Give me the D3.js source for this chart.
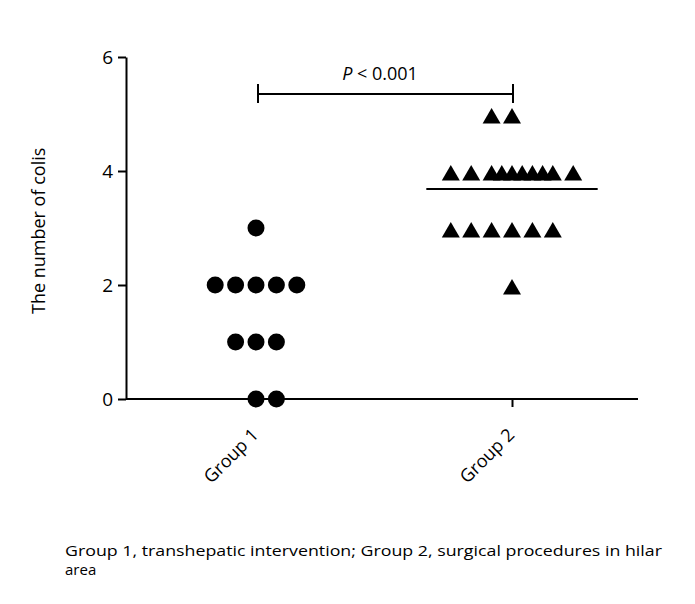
<!DOCTYPE html>
<html lang="en">
<head>
<meta charset="utf-8">
<title>Number of coils by group</title>
<script src="https://cdn.jsdelivr.net/npm/d3@7"></script>
<style>
  body { margin: 0; background: #fff; }
  text { font-family: "Open Sans", "Noto Sans", sans-serif; fill: #000; }
</style>
</head>
<body>
<script>
// data
var groups = ["Group 1", "Group 2"];
var group1Values = [3, 2, 2, 2, 2, 2, 1, 1, 1, 0, 0];
var group1Slots  = [0, -2, -1, 0, 1, 2, -1, 0, 1, 0, 1];
var group2Values = [5, 5, 4, 4, 4, 4, 4, 4, 4, 4, 4, 4, 3, 3, 3, 3, 3, 3, 2];
var group2Slots  = [-1, 0, -3, -2, -1, -0.5, 0, 0.5, 1, 1.5, 2, 3, -3, -2, -1, 0, 1, 2, 0];
var yTicks = [0, 2, 4, 6];
var pLabel = "< 0.001";
var yLabel = "The number of colis";
var caption = ["Group 1, transhepatic intervention; Group 2, surgical procedures in hilar", "area"];

var W = 695, H = 604;
var svg = d3.select("body").append("svg").attr("width", W).attr("height", H);

var x = d3.scalePoint().domain(groups).range([128, 640]).padding(0.5);
var y = d3.scaleLinear().domain([0, 6]).range([399, 57]);
// horizontal spread of the dots, in marker slots
var slot = d3.scaleLinear().domain([0, 1]).range([0, 20.4]);

// y axis
var yAxis = svg.append("g").attr("transform", "translate(126,0)")
    .call(d3.axisLeft(y).tickValues(yTicks).tickFormat(d3.format("d"))
        .tickSize(8).tickSizeOuter(0).tickPadding(5));
yAxis.selectAll("path, line").attr("stroke", "#000").attr("stroke-width", 2);
yAxis.selectAll("text").style("font-size", "19px").attr("font-family", null);

// x axis
var xAxis = svg.append("g").attr("transform", "translate(0," + y(0) + ")")
    .call(d3.axisBottom(x).tickSize(8).tickSizeOuter(0));
xAxis.select(".domain").attr("d", "M126,0H638");
xAxis.selectAll("path, line").attr("stroke", "#000").attr("stroke-width", 2);
xAxis.selectAll("text")
    .style("font-size", "18px").attr("font-family", null)
    .attr("text-anchor", "end")
    .attr("dy", null).attr("y", 0)
    .attr("transform", "translate(3,37) rotate(-45)");

// y label
svg.append("text")
    .attr("transform", "translate(45," + y(2.95) + ") rotate(-90)")
    .attr("text-anchor", "middle")
    .style("font-size", "18px")
    .text(yLabel);

// group 1 dots
svg.append("g").selectAll("circle")
    .data(group1Values)
    .join("circle")
    .attr("cx", function (d, i) { return x(groups[0]) + slot(group1Slots[i]); })
    .attr("cy", function (d) { return y(d); })
    .attr("r", 8.5)
    .attr("fill", "#000");

// group 2 triangles
var tri = "M0,-6L9,9.5L-9,9.5Z";
svg.append("g").selectAll("path")
    .data(group2Values)
    .join("path")
    .attr("d", tri)
    .attr("transform", function (d, i) {
        return "translate(" + (x(groups[1]) + slot(group2Slots[i])) + "," + y(d) + ")";
    })
    .attr("fill", "#000");

// group 2 mean line
var mean2 = d3.mean(group2Values);
svg.append("line")
    .attr("x1", x(groups[1]) - slot(4.2)).attr("x2", x(groups[1]) + slot(4.2))
    .attr("y1", y(mean2)).attr("y2", y(mean2))
    .attr("stroke", "#000").attr("stroke-width", 2);

// significance bracket
var by = 94;
var br = svg.append("g").attr("stroke", "#000").attr("stroke-width", 2);
br.append("line").attr("x1", x(groups[0]) + 2).attr("x2", x(groups[1]) + 1).attr("y1", by).attr("y2", by);
br.append("line").attr("x1", x(groups[0]) + 2).attr("x2", x(groups[0]) + 2).attr("y1", by - 10).attr("y2", by + 9);
br.append("line").attr("x1", x(groups[1]) + 1).attr("x2", x(groups[1]) + 1).attr("y1", by - 10).attr("y2", by + 9);

var pt = svg.append("text")
    .attr("x", (x(groups[0]) + x(groups[1])) / 2 - 4)
    .attr("y", 80)
    .attr("text-anchor", "middle")
    .style("font-size", "18px");
pt.append("tspan").style("font-style", "italic").text("P");
pt.append("tspan").text(" " + pLabel);

// caption
svg.append("g").selectAll("text")
    .data(caption)
    .join("text")
    .attr("x", 65)
    .attr("y", function (d, i) { return 556 + i * 19; })
    .style("font-size", "15px")
    .attr("textLength", function (d, i) { return i === 0 ? 597 : null; })
    .attr("lengthAdjust", "spacingAndGlyphs")
    .text(function (d) { return d; });
</script>
</body>
</html>
